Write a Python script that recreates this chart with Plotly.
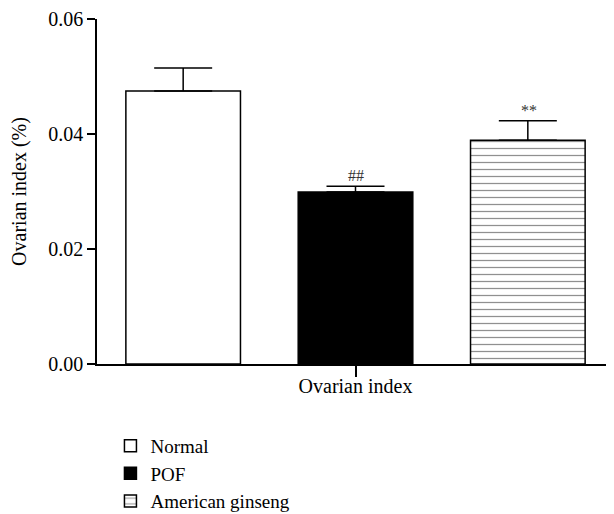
import plotly.graph_objects as go

category = ["Ovarian index"]
groups = ["Normal", "POF", "American ginseng"]
means = [0.0475, 0.0299, 0.0389]
errors = [0.0040, 0.0010, 0.0034]
marks = ["", "##", "**"]

FONT = "Liberation Serif"
FS = 20

fig = go.Figure()
styles = [
    dict(color="white", pattern=None),
    dict(color="black", pattern=None),
    dict(color="white", pattern=dict(shape="-", fgcolor="#222222", bgcolor="white", size=7, solidity=0.18)),
]
for g, m, e, st in zip(groups, means, errors, styles):
    marker = dict(color=st["color"], line=dict(color="black", width=1.5))
    if st["pattern"]:
        marker["pattern"] = st["pattern"]
    fig.add_trace(go.Bar(
        x=category, y=[m], name=g, marker=marker,
        error_y=dict(type="data", array=[e], arrayminus=[0], symmetric=False,
                     color="black", thickness=1.5, width=29),
    ))

slot = 173
for i, (m, e, t) in enumerate(zip(means, errors, marks)):
    if t:
        fig.add_annotation(x=category[0], y=m + e, text=t, showarrow=False,
                           xshift=(i - 1) * slot, yanchor="bottom", yshift=0,
                           font=dict(family=FONT, size=16, color="#333333"))

fig.update_layout(
    width=606, height=520,
    margin=dict(l=89, r=0, t=9, b=164),
    paper_bgcolor="white", plot_bgcolor="white",
    barmode="group", bargap=0, bargroupgap=0.335,
    font=dict(family=FONT, size=FS, color="black"),
    showlegend=True,
    legend=dict(x=0.026, y=-0.182, xanchor="left", yanchor="top",
                font=dict(family=FONT, size=19, color="black"),
                bgcolor="rgba(0,0,0,0)", tracegroupgap=0),
    xaxis=dict(showline=True, linecolor="black", linewidth=1.5, ticks="outside",
               ticklen=11, tickwidth=1.5, tickcolor="black", showgrid=False,
               ticklabelstandoff=-8,
               tickfont=dict(family=FONT, size=FS)),
    yaxis=dict(range=[0, 0.06], tickvals=[0, 0.02, 0.04, 0.06], tickformat=".2f",
               showline=True, linecolor="black", linewidth=1.5, ticks="outside",
               ticklen=8, tickwidth=1.5, tickcolor="black", showgrid=False, zeroline=False,
               ticklabeloverflow="allow",
               title=dict(text="Ovarian index (%)", font=dict(family=FONT, size=FS), standoff=19),
               tickfont=dict(family=FONT, size=FS)),
)

fig.write_html("out.html")
